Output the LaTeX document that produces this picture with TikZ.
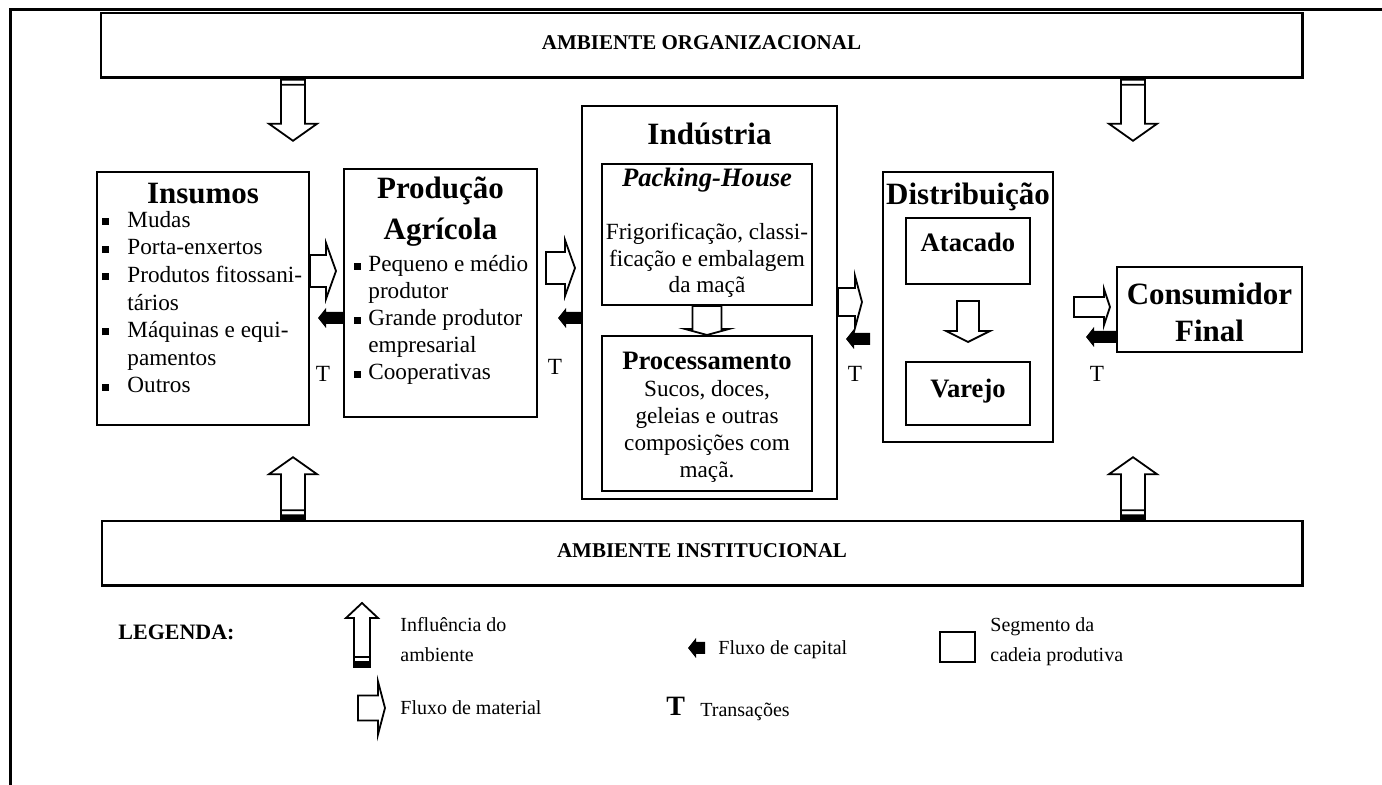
\documentclass[tikz,border=0pt]{standalone}
\usepackage{fontspec}
\setmainfont{Liberation Serif}
\usetikzlibrary{calc,positioning}

\tikzset{
  segbox/.style={draw,line width=1pt,inner sep=0pt},
  envbox/.style={draw,line width=0.8pt,inner sep=0pt},
  flowline/.style={draw,line width=0.9pt,fill=white},
  hd/.style={font=\fontsize{15.5}{18}\selectfont\bfseries,anchor=base,inner sep=0pt},
  subhd/.style={font=\fontsize{13.3}{16}\selectfont\bfseries,anchor=base,inner sep=0pt},
  body/.style={font=\fontsize{11.6}{13.8}\selectfont,anchor=base,inner sep=0pt},
  envtxt/.style={font=\fontsize{10.5}{12}\selectfont\bfseries,anchor=base,inner sep=0pt},
  lgtxt/.style={font=\fontsize{10}{12}\selectfont,anchor=base west,inner sep=0pt}
}

% white block arrow to the right: tail, tip, shaft half, head half, head length
\newcommand{\matflow}[5]{%
  \draw[flowline] let \p1=(#1), \p2=(#2) in
    (\x1,\y1+#3) -- (\x2-#5,\y1+#3) -- (\x2-#5,\y1+#4) -- (\x2,\y1)
    -- (\x2-#5,\y1-#4) -- (\x2-#5,\y1-#3) -- (\x1,\y1-#3) -- cycle;}
% black arrow to the left: tail, tip
\newcommand{\capflow}[2]{%
  \fill let \p1=(#1), \p2=(#2) in
    (\x1,\y1+3pt) -- (\x2+4pt,\y1+3pt) -- (\x2+4pt,\y1+5pt) -- (\x2,\y1)
    -- (\x2+4pt,\y1-5pt) -- (\x2+4pt,\y1-3pt) -- (\x1,\y1-3pt) -- cycle;}
% white block arrow downwards
\newcommand{\matdown}[5]{%
  \draw[flowline] let \p1=(#1), \p2=(#2) in
    (\x1-#3,\y1) -- (\x1-#3,\y2+#5) -- (\x1-#4,\y2+#5) -- (\x1,\y2)
    -- (\x1+#4,\y2+#5) -- (\x1+#3,\y2+#5) -- (\x1+#3,\y1) -- cycle;}
% influence of the environment
\newcommand{\envdown}[2]{%
  \draw[flowline] let \p1=(#1) in
    (\x1-6pt,\y1-1pt) rectangle (\x1+6pt,\y1-3.5pt)
    (\x1-6pt,\y1-3.5pt) -- (\x1-6pt,\y1-#2+8.5pt) -- (\x1-12pt,\y1-#2+8.5pt)
    -- (\x1,\y1-#2) -- (\x1+12pt,\y1-#2+8.5pt) -- (\x1+6pt,\y1-#2+8.5pt) -- (\x1+6pt,\y1-3.5pt);
  \fill let \p1=(#1) in (\x1-6.5pt,\y1) rectangle (\x1+6.5pt,\y1-1.2pt);}
\newcommand{\envup}[5]{%
  \draw[flowline] let \p1=(#1) in
    (\x1-#3,\y1+2.5pt) rectangle (\x1+#3,\y1+5pt)
    (\x1-#3,\y1+5pt) -- (\x1-#3,\y1+#2-#5) -- (\x1-#4,\y1+#2-#5) -- (\x1,\y1+#2)
    -- (\x1+#4,\y1+#2-#5) -- (\x1+#3,\y1+#2-#5) -- (\x1+#3,\y1+5pt);
  \fill let \p1=(#1) in (\x1-#3-0.5pt,\y1-0.5pt) rectangle (\x1+#3+0.5pt,\y1+2pt);}

\begin{document}
\begin{tikzpicture}[x=0.5pt,y=-0.5pt]
\useasboundingbox (0,0) rectangle (1382,785);
\draw[line width=1.5pt] (10,785) -- (10,10) -- (1382,10);

% environments
\node[envbox,minimum width=600.5pt,minimum height=32pt] (org) at (701.5,45) {};
\draw[line width=1.4pt] (org.north east) -- (org.south east) -- (org.south west);
\node[envtxt] (orgT) at (701.5,50) {AMBIENTE ORGANIZACIONAL};
\node[envbox,minimum width=600pt,minimum height=32pt] (inst) at (702,553) {};
\draw[line width=1.4pt] (inst.north east) -- (inst.south east) -- (inst.south west);
\node[envtxt] (instT) at (702,558) {AMBIENTE INSTITUCIONAL};

% segments
\node[segbox,minimum width=106pt,minimum height=126.5pt] (ins) at (203,298.5) {};
\node[segbox,minimum width=96.5pt,minimum height=124pt] (prod) at (440.5,293) {};
\node[segbox,minimum width=127.5pt,minimum height=196.5pt] (ind) at (709.5,302.5) {};
\node[segbox,minimum width=105pt,minimum height=70.5pt] (pack) at (707,234.5) {};
\node[segbox,minimum width=105pt,minimum height=77.5pt] (proc) at (707,413.5) {};
\node[segbox,minimum width=85pt,minimum height=135pt] (dist) at (968,307) {};
\node[segbox,minimum width=62pt,minimum height=33pt] (atac) at (968,251) {};
\node[segbox,minimum width=62pt,minimum height=31.5pt] (var) at (968,393.5) {};
\node[segbox,minimum width=92.5pt,minimum height=42.5pt] (cons) at (1209.5,309.5) {};

\node[hd] (insT) at (203,204) {Insumos};
\foreach \txt/\b [count=\i] in {Mudas/1,Porta-enxertos/1,Produtos fitossani-/1,tários/0,
    Máquinas e equi-/1,pamentos/0,Outros/1}{
  \node[body,anchor=base west] (ins-\i) at (127,{227.4+27.6*(\i-1)}) {\txt};
  \ifnum\b=1 \node[body] (insb-\i) at (105,{227.4+27.6*(\i-1)}) {\rule[1.2pt]{3.5pt}{3.5pt}}; \fi
}
\node[hd] (prodT1) at (440.5,199) {Produção};
\node[hd] (prodT2) at (440.5,240) {Agrícola};
\foreach \txt/\b [count=\i] in {Pequeno e médio/1,produtor/0,Grande produtor/1,empresarial/0,Cooperativas/1}{
  \node[body,anchor=base west] (prod-\i) at (368,{272+27*(\i-1)}) {\txt};
  \ifnum\b=1 \node[body] (prodb-\i) at (357,{272+27*(\i-1)}) {\rule[1.2pt]{3.5pt}{3.5pt}}; \fi
}
\node[hd] (indT) at (709.5,145) {Indústria};
\node[subhd,font=\fontsize{13.3}{16}\selectfont\bfseries\itshape] (packT) at (707,187) {Packing-House};
\foreach \txt [count=\i] in {{Frigorificação, classi-},ficação e embalagem,da maçã}
  \node[body] (pack-\i) at (707,{240+26.5*(\i-1)}) {\txt};
\node[subhd] (procT) at (707,370) {Processamento};
\foreach \txt [count=\i] in {{Sucos, doces,},geleias e outras,composições com,maçã.}
  \node[body] (proc-\i) at (707,{397+26.7*(\i-1)}) {\txt};
\node[hd] (distT) at (968,205) {Distribuição};
\node[subhd] (atacT) at (968,252) {Atacado};
\node[subhd] (varT) at (968,398) {Varejo};
\node[hd] (consT1) at (1209.5,305) {Consumidor};
\node[hd] (consT2) at (1209.5,342) {Final};

% flows
\coordinate (cxL) at (293,0);
\coordinate (cxR) at (1133,0);
\coordinate (lvA) at (0,271);
\coordinate (lvB) at (0,268);
\coordinate (lvC) at (0,302);
\coordinate (lvD) at (0,307);
\coordinate (lvE) at (0,318);
\coordinate (lvF) at (0,339);
\coordinate (lvG) at (0,337);

\envdown{org.south -| cxL}{31.5pt}
\envdown{org.south -| cxR}{31.5pt}
\envup{inst.north -| cxL}{31.5pt}{6pt}{12pt}{8.5pt}
\envup{inst.north -| cxR}{31.5pt}{6pt}{12pt}{8.5pt}

\matflow{ins.east |- lvA}{$(prod.west |- lvA)+(-3.5pt,0)$}{8pt}{14pt}{5pt}
\matflow{$(prod.east |- lvB)+(4pt,0)$}{$(ind.west |- lvB)+(-3pt,0)$}{8pt}{14pt}{5pt}
\matflow{ind.east |- lvC}{$(dist.west |- lvC)+(-10pt,0)$}{7pt}{13pt}{3.5pt}
\matflow{$(dist.east |- lvD)+(10pt,0)$}{$(cons.west |- lvD)+(-3pt,0)$}{5pt}{9pt}{3pt}
\matdown{pack.south}{proc.north}{7.25pt}{11pt}{3pt}
\matdown{$(atac.south)+(0,-8pt)$}{$(var.north)+(0,9.5pt)$}{5.5pt}{11pt}{5.5pt}

\capflow{prod.west |- lvE}{$(ins.east |- lvE)+(4pt,0)$}
\capflow{ind.west |- lvE}{$(prod.east |- lvE)+(10pt,0)$}
\capflow{$(dist.west |- lvF)+(-6pt,0)$}{$(ind.east |- lvF)+(4pt,0)$}
\capflow{cons.west |- lvG}{$(dist.east |- lvG)+(16pt,0)$}

\node[body] (t1) at (323,382) {T};
\node[body] (t2) at (555,375) {T};
\node[body] (t3) at (855,382) {T};
\node[body] (t4) at (1097,382) {T};

% legend
\node[font=\fontsize{11}{12}\selectfont\bfseries,anchor=base west,inner sep=0pt] (lgTitle) at (118,640) {LEGENDA:};
\coordinate (lgInf) at (362,667);
\envup{lgInf}{32pt}{4pt}{8pt}{7.5pt}
\node[lgtxt] (lgInfT1) at (400,632) {Influência do};
\node[lgtxt] (lgInfT2) at (400,662) {ambiente};
\coordinate (lgCapT) at (705,648);
\coordinate (lgCapH) at (688,648);
\capflow{lgCapT}{lgCapH}
\node[lgtxt] (lgCapTx) at (718,655) {Fluxo de capital};
\node[segbox,minimum width=17.5pt,minimum height=15pt] (lgSeg) at (957.5,647) {};
\node[lgtxt] (lgSegT1) at (990,632) {Segmento da};
\node[lgtxt] (lgSegT2) at (990,662) {cadeia produtiva};
\coordinate (lgMatT) at (358,708);
\coordinate (lgMatH) at (385,708);
\matflow{lgMatT}{lgMatH}{6.25pt}{13.25pt}{3.5pt}
\node[lgtxt] (lgMatTx) at (400,715) {Fluxo de material};
\node[font=\fontsize{14}{16}\selectfont\bfseries,anchor=base west,inner sep=0pt] (lgT) at (666,716) {T};
\node[lgtxt] (lgTTx) at (700,717) {Transações};

\end{tikzpicture}
\end{document}
